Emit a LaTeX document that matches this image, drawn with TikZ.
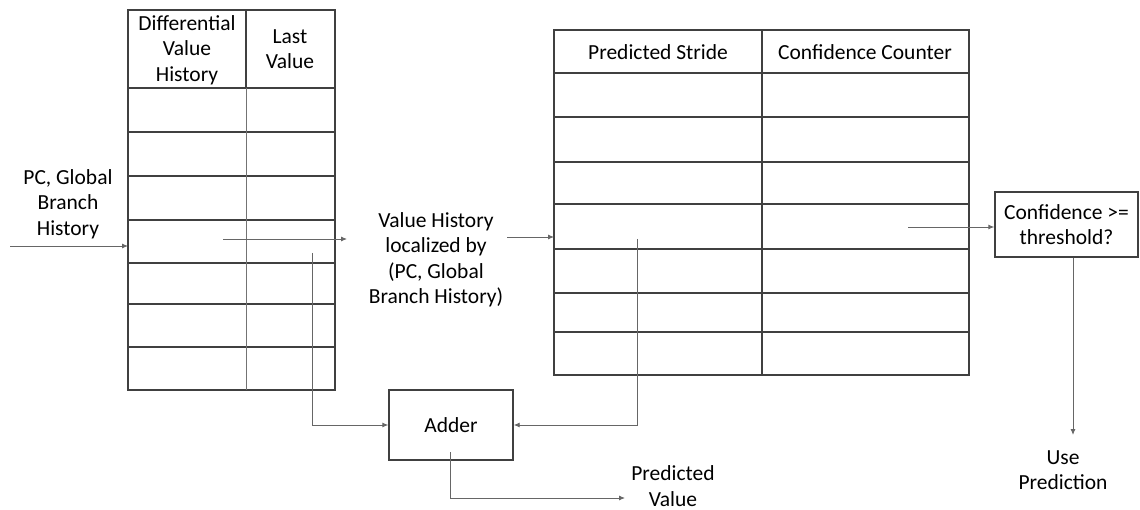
\documentclass[tikz,border=0pt]{standalone}
\usepackage{fontspec}
\setmainfont{Carlito}
\usetikzlibrary{positioning}
\usetikzlibrary{arrows.meta}

\begin{document}
\begin{tikzpicture}[x = 1pt, y = -1pt, font = \fontsize{21.5}{25.5}\selectfont,
	grid/.style = {draw = black!75, line width = 1.4pt},
	thin grid/.style = {draw = black!55, line width = 0.9pt},
	link/.style = {draw = black!60, line width = 0.9pt, -{Latex[length = 6pt, width = 5pt]}},
	box/.style = {draw = black!75, line width = 1.4pt, align = center}]
			\useasboundingbox (0,0) rectangle (1140,510);
			% history table
			\draw[grid] (128,10) rectangle (335,390);
			\foreach \y in {88,132,176,220,263,304,347} \draw[grid] (128,\y) -- (335,\y);
			\draw[grid] (246,10) -- (246,88);
			\draw[thin grid] (246,88) -- (246,390);
			\node[align = center] (dvh) at (187,50) {Differential\\Value\\History};
			\node[align = center] (lastval) at (290,49) {Last\\Value};
			% stride table
			\draw[grid] (554,30) rectangle (969,375);
			\foreach \y in {73,117,162,204,249,293,332} \draw[grid] (554,\y) -- (969,\y);
			\draw[grid] (762,30) -- (762,375);
			\node (stride) at (658,52) {Predicted Stride};
			\node (confcnt) at (865,52) {Confidence Counter};
			% labels and boxes
			\node[align = center] (pcgbh) at (68,204) {PC, Global\\Branch\\History};
			\node[align = center] (vhist) at (436,260) {Value History\\localized by\\(PC, Global\\Branch History)};
			\node[box, minimum width = 124pt, minimum height = 70pt] (adder) at (451,425) {Adder};
			\node[box, minimum width = 143pt, minimum height = 65pt] (thresh) at (1066.5,224.5) {Confidence >=\\threshold?};
			\node[align = center] (predval) at (673,486) {Predicted\\Value};
			\node[align = center] (usepred) at (1063,470) {Use\\Prediction};
			% connector ends
			\coordinate (pcin) at (10,246);
			\coordinate (htabin) at (128,246);
			\coordinate (hout) at (223,239);
			\coordinate (hend) at (347,239);
			\coordinate (htap) at (312,253);
			\coordinate (vhout) at (507,237);
			\coordinate (stabin) at (554,237);
			\coordinate (stap) at (637,239);
			\coordinate (addout) at (450,452);
			\coordinate (pvin) at (625,498);
			\coordinate (cout) at (908,227);
			\coordinate (usein) at (1073,435);
			\draw[link] (pcin) -- (htabin);
			\draw[link] (hout) -- (hend);
			\draw[link] (vhout) -- (stabin);
			\draw[link] (htap) |- (adder.west);
			\draw[link] (stap) |- (adder.east);
			\draw[link] (addout) |- (pvin);
			\draw[link] (cout) -- (cout -| thresh.west);
			\draw[link] (usein |- thresh.south) -- (usein);
		\end{tikzpicture}
\end{document}
